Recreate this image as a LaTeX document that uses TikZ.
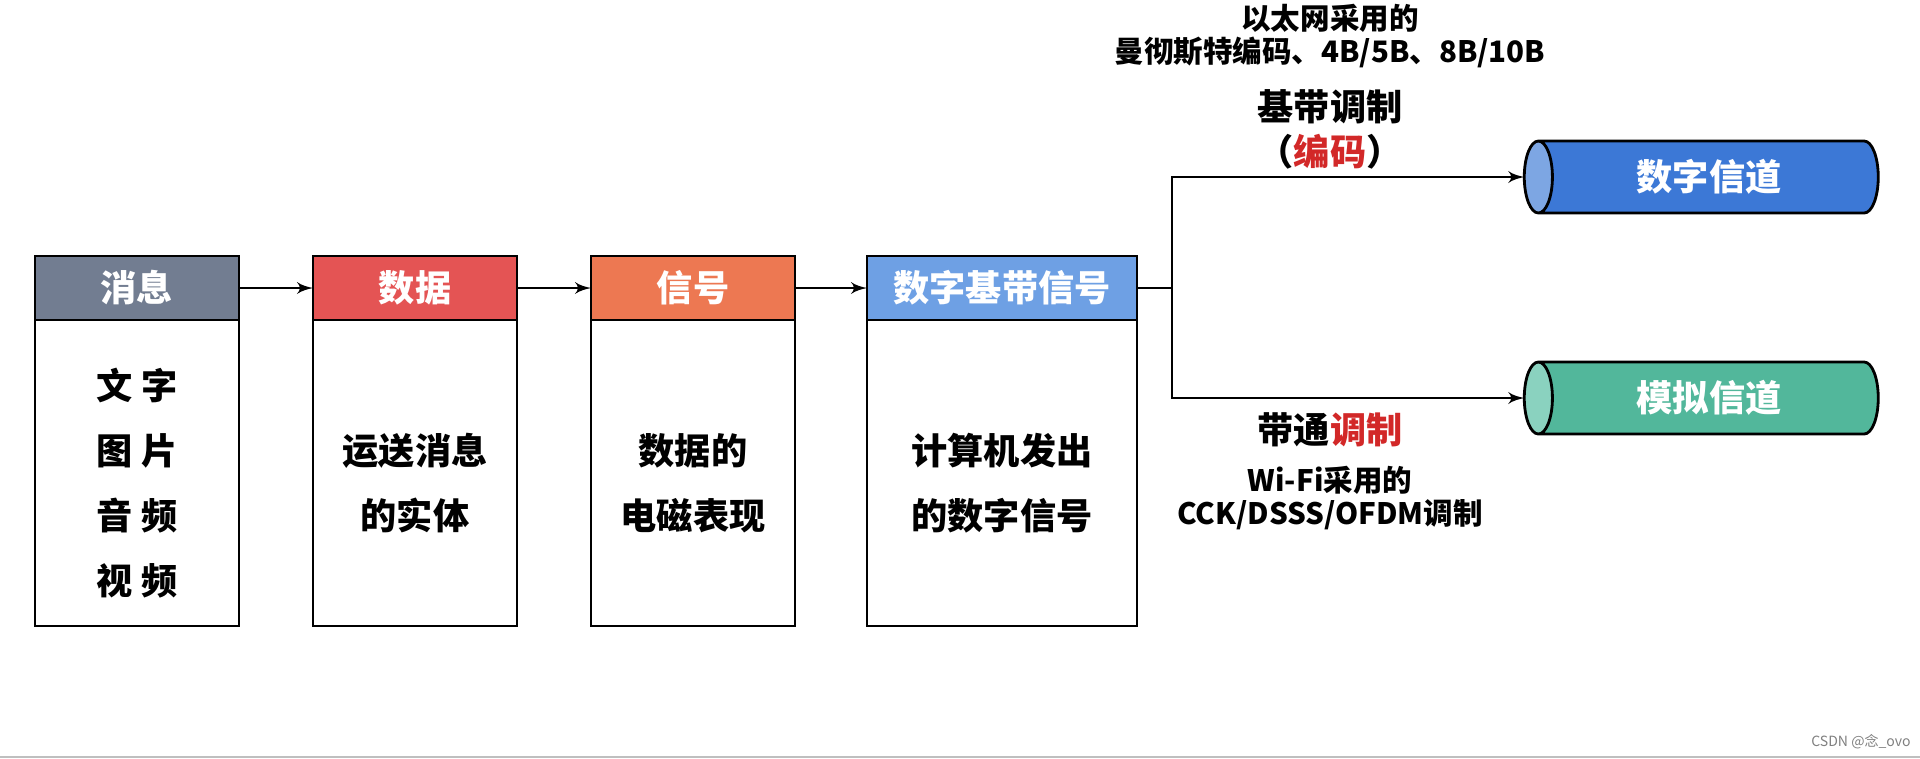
\documentclass[tikz,border=0pt]{standalone}
\usepackage{fontspec}
\setmainfont{Noto Sans CJK SC}
\usetikzlibrary{arrows,positioning,shapes.geometric}

\definecolor{msgcol}{RGB}{114,125,145}
\definecolor{datacol}{RGB}{228,84,84}
\definecolor{sigcol}{RGB}{237,120,82}
\definecolor{dbscol}{RGB}{110,160,228}
\definecolor{digcol}{RGB}{60,120,214}
\definecolor{digend}{RGB}{125,166,227}
\definecolor{anacol}{RGB}{82,183,155}
\definecolor{anaend}{RGB}{138,210,191}
\definecolor{hl}{RGB}{210,40,40}

\begin{document}
\begin{tikzpicture}[hdr/.style={draw, line width=0.8pt, minimum width=2.04cm, minimum height=0.64cm, inner sep=0, outer sep=0, text=white, font=\bfseries\fontsize{10.3}{12}\selectfont}, body/.style={draw, line width=0.8pt, minimum width=2.04cm, minimum height=3.06cm, inner sep=0, outer sep=0}, bodytext/.style={align=center, font=\bfseries\fontsize{10.3}{18.5}\selectfont}, chan/.style={cylinder, shape border rotate=180, draw, line width=0.8pt, minimum height=3.54cm, minimum width=0.72cm, aspect=0.8, inner sep=0, outer sep=0, cylinder uses custom fill, text=white, font=\bfseries\fontsize{10.3}{12}\selectfont}, lbl/.style={align=center, font=\bfseries\fontsize{10.3}{12.8}\selectfont}, note/.style={align=center, font=\bfseries\fontsize{8.4}{9.4}\selectfont}, >=latex', line width=0.6pt]
	\useasboundingbox (0,0) rectangle (19.2,-7.58);
	% the four stages
	\node[hdr, fill=msgcol] (msg) at (1.37,-2.88) {消息};
	\node[body, below=0pt of msg] (msgb) {};
	\node[bodytext] (msgt) at ([yshift=-0.1cm]msgb.center) {文 字\\图 片\\音 频\\视 频};
	\node[hdr, fill=datacol, right=0.74cm of msg] (data) {数据};
	\node[body, below=0pt of data] (datab) {};
	\node[bodytext] (datat) at ([yshift=-0.1cm]datab.center) {运送消息\\的实体};
	\node[hdr, fill=sigcol, right=0.74cm of data] (sig) {信号};
	\node[body, below=0pt of sig] (sigb) {};
	\node[bodytext] (sigt) at ([yshift=-0.1cm]sigb.center) {数据的\\电磁表现};
	\node[hdr, fill=dbscol, minimum width=2.70cm, right=0.72cm of sig] (dbs) {数字基带信号};
	\node[body, minimum width=2.70cm, below=0pt of dbs] (dbsb) {};
	\node[bodytext] (dbst) at ([yshift=-0.1cm]dbsb.center) {计算机发出\\的数字信号};
	\draw[->] (msg) -- (data);
	\draw[->] (data) -- (sig);
	\draw[->] (sig) -- (dbs);
	% the two channels
	\node[chan, cylinder body fill=digcol, cylinder end fill=digend] (digch) at (17.09,-1.77) {数字信道};
	\node[chan, cylinder body fill=anacol, cylinder end fill=anaend] (anach) at (17.09,-3.98) {模拟信道};
	\coordinate[right=0.35cm of dbs] (fork);
	\draw[->] (dbs.east) -- (fork) |- (digch.west);
	\draw[->] (fork) |- (anach.west);
	% labels of the two ways
	\node[note] (eth) at (13.30,-0.365) {以太网采用的\\曼彻斯特编码、4B/5B、8B/10B};
	\node[lbl] (bbm) at (13.30,-1.295) {基带调制\\（\textcolor{hl}{编码}）};
	\node[lbl] (bpm) at (13.30,-4.30) {带通\textcolor{hl}{调制}};
	\node[note] (wifi) at (13.30,-4.985) {Wi-Fi采用的\\CCK/DSSS/OFDM调制};
	\node[text=gray, font=\fontsize{4}{5}\selectfont] (mark) at (18.61,-7.42) {CSDN @念\_ovo};
	\draw[gray!50, line width=0.4pt] (0,-7.57) -- (19.2,-7.57);
\end{tikzpicture}
\end{document}
